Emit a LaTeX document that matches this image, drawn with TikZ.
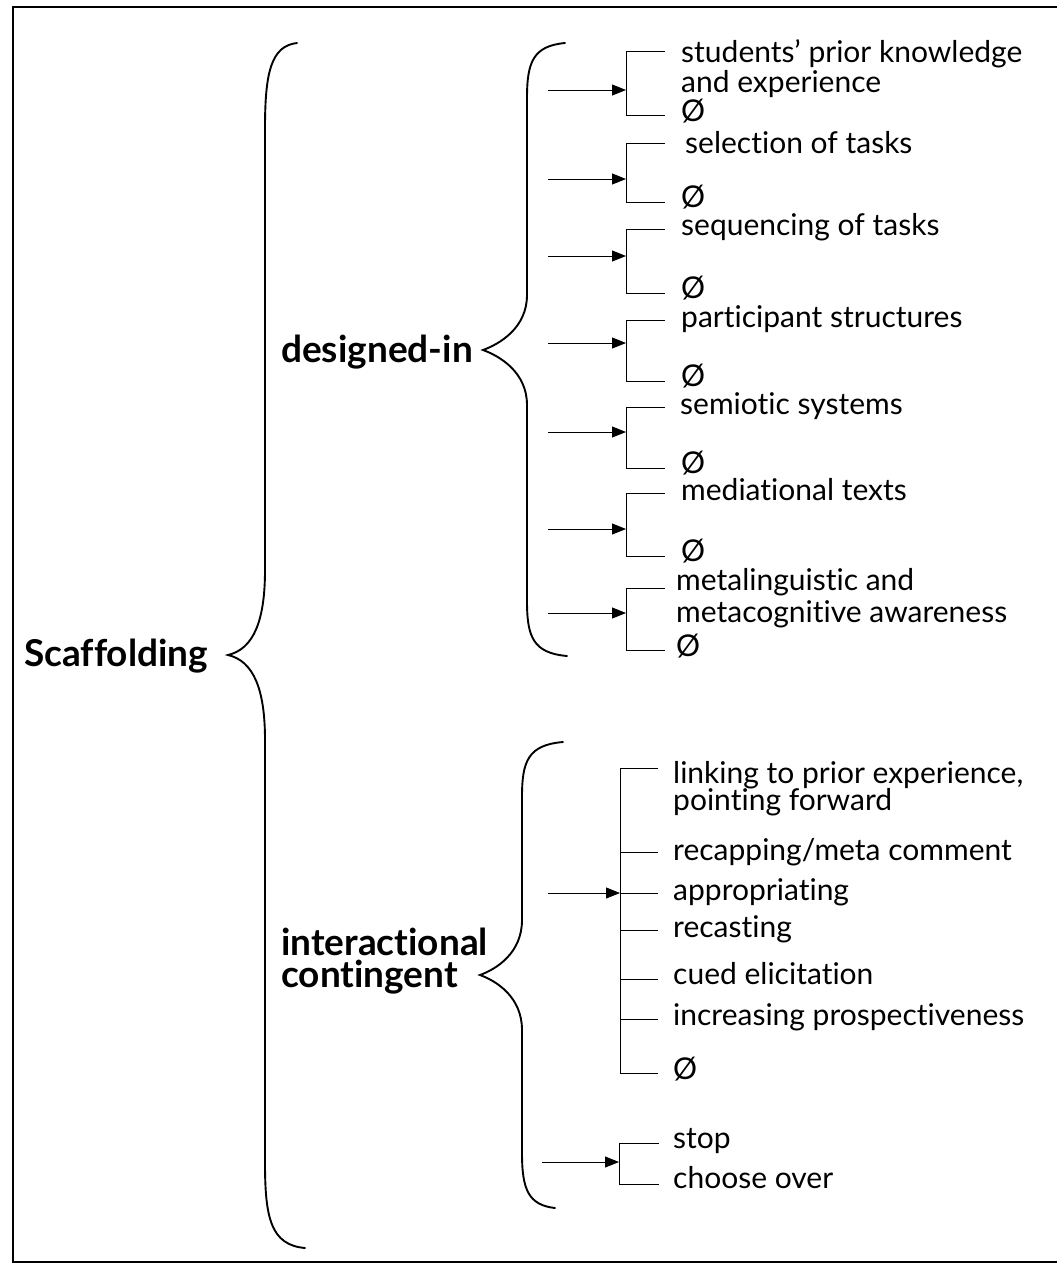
\documentclass[tikz,border=0pt]{standalone}
\usepackage{fontspec}
\setmainfont{Lato}[Ligatures=NoCommon]
\usetikzlibrary{arrows.meta}

% a curly brace opening to the left: top end, vertical x, tip, bottom end, bend length
\newcommand\curly[8]{%
  \draw[brace] (#1,#2) .. controls (#3+6,#2+3) and (#3,#2+#8*0.35) .. (#3,#2+#8)
    -- (#3,#4-#8)
    .. controls (#3,#4-#8*0.4) and (#5+#8*0.3,#4-6) .. (#5,#4)
    .. controls (#5+#8*0.3,#4+6) and (#3,#4+#8*0.4) .. (#3,#4+#8)
    -- (#3,#6-#8)
    .. controls (#3,#6-#8*0.35) and (#3+6,#6-3) .. (#7,#6);}

% an incoming arrow feeding a bracket of alternatives
% #1 name, #2 arrow start x, #3 rail x, #4 branch end x, #5 top y, #6 arrow y, #7 bottom y
\newcommand\choice[7]{%
  \coordinate (#1-in) at (#2,#6);
  \coordinate (#1-hub) at (#3,#6);
  \coordinate (#1-top) at (#3,#5);
  \coordinate (#1-bot) at (#3,#7);
  \coordinate (#1-topend) at (#4,#5);
  \coordinate (#1-botend) at (#4,#7);
  \draw[feed] (#1-in) -- (#1-hub);
  \draw[rail] (#1-topend) -- (#1-top) -- (#1-bot) -- (#1-botend);}

\tikzset{
  brace/.style={line width=1.9pt, line cap=round},
  feed/.style={line width=0.9pt, -{Triangle[length=14pt,width=11pt]}},
  rail/.style={line width=0.9pt},
  item/.style={anchor=base west, inner sep=0pt, font=\fontsize{30}{32}\selectfont},
  head/.style={anchor=base west, inner sep=0pt, font=\fontsize{37}{40}\selectfont\bfseries},
  frame/.style={line width=1.6pt}
}

\begin{document}
\begin{tikzpicture}[x=1pt,y=-1pt]
\useasboundingbox (0,0) rectangle (1057,1264);
\fill[white] (0,0) rectangle (1057,1264);

% frame
\coordinate (fa) at (1057,7);
\coordinate (fb) at (13,7);
\coordinate (fc) at (13,1262);
\coordinate (fd) at (1057,1262);
\draw[frame] (fa) -- (fb) -- (fc) -- (fd);

% headings
\node[head] (scaf) at (24,666) {Scaffolding};
\node[head] (desi) at (281,362) {designed-in};
\node[head] (inter) at (281,955) {interactional};
\node[head] (cont) at (281,987) {contingent};

% braces
\curly{297}{43}{265}{655}{228}{1248}{305}{85}
\curly{565}{43}{527}{350}{483}{656}{567}{55}
\curly{563}{742}{522}{975}{480}{1208}{555}{55}

% designed-in alternatives
\choice{g1}{548}{626}{665}{51}{90}{115}
\choice{g2}{548}{626}{665}{143}{179}{202}
\choice{g3}{548}{626}{665}{229}{256}{293}
\choice{g4}{548}{626}{665}{320}{343}{381}
\choice{g5}{548}{626}{665}{407}{432}{468}
\choice{g6}{548}{626}{665}{493}{529}{556}
\choice{g7}{548}{626}{665}{588}{613}{650}

\node[item] (t1a) at (681,62) {students’ prior knowledge};
\node[item] (t1b) at (681,92) {and experience};
\node[item] (n1) at (681,121) {Ø};
\node[item] (t2) at (685,153) {selection of tasks};
\node[item] (n2) at (681,207) {Ø};
\node[item] (t3) at (681,235) {sequencing of tasks};
\node[item] (n3) at (681,298) {Ø};
\node[item] (t4) at (681,327) {participant structures};
\node[item] (n4) at (681,386) {Ø};
\node[item] (t5) at (680,414) {semiotic systems};
\node[item] (n5) at (681,473) {Ø};
\node[item] (t6) at (681,500) {mediational texts};
\node[item] (n6) at (681,561) {Ø};
\node[item] (t7a) at (676,590) {metalinguistic and};
\node[item] (t7b) at (676,622) {metacognitive awareness};
\node[item] (n7) at (676,656) {Ø};

% interactional alternatives
\coordinate (h-in) at (548,893);
\coordinate (h-hub) at (620,893);
\draw[feed] (h-in) -- (h-hub);
\coordinate (h-top) at (620,768);
\coordinate (h-bot) at (620,1073);
\draw[rail] (658,768) -- (h-top) -- (h-bot) -- (658,1073);
\foreach \yy in {852,893,930,979,1019}
  \draw[rail] (620,\yy) -- (658,\yy);

\node[item] (i1a) at (673,783) {linking to prior experience,};
\node[item] (i1b) at (673,810) {pointing forward};
\node[item] (i2) at (673,860) {recapping/meta comment};
\node[item] (i3) at (673,900) {appropriating};
\node[item] (i4) at (673,937) {recasting};
\node[item] (i5) at (673,984) {cued elicitation};
\node[item] (i6) at (673,1025) {increasing prospectiveness};
\node[item] (i7) at (673,1079) {Ø};

\choice{s}{542}{619}{659}{1143}{1162}{1184}
\node[item] (s1) at (673,1148) {stop};
\node[item] (s2) at (673,1188) {choose over};
\end{tikzpicture}
\end{document}
